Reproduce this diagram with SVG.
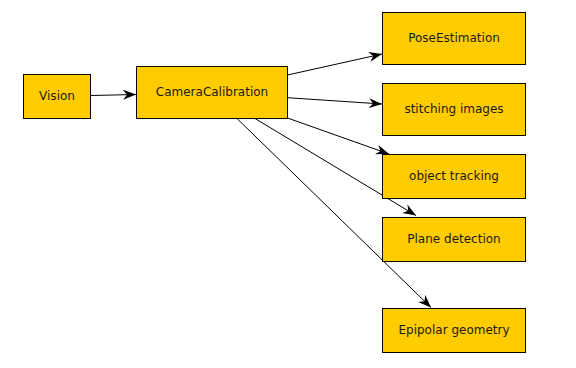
<svg xmlns="http://www.w3.org/2000/svg" width="576" height="368" viewBox="0 0 576 368">
<style>
.n rect{fill:#ffcc00;stroke:#000;stroke-width:1}
.n text{font-family:"DejaVu Sans",sans-serif;font-size:12px;fill:#1a1a1a;text-anchor:middle}
.e line{stroke:#000;stroke-width:1;marker-end:url(#ah)}
</style>
<defs>
<marker id="ah" markerUnits="userSpaceOnUse" markerWidth="14" markerHeight="12" refX="13" refY="5" orient="auto" viewBox="0 0 14 10">
<path d="M0,0 L13,5 L0,10 L4,5 z" fill="#000"/>
</marker>
</defs>
<rect width="576" height="368" fill="#fff"/>
<g class="e">
<line x1="90.5" y1="95.5" x2="136" y2="94.5"/>
<line x1="287.5" y1="75" x2="382" y2="54"/>
<line x1="287.5" y1="97.7" x2="382" y2="104"/>
<line x1="287.5" y1="118" x2="389" y2="154"/>
<line x1="255" y1="118.5" x2="416" y2="215.5"/>
<line x1="237" y1="118.5" x2="431" y2="307.5"/>
</g>
<g id="vision" class="n"><rect x="23.5" y="74.5" width="67" height="44"/><text x="57" y="100">Vision</text></g>
<g id="cameracalibration" class="n"><rect x="136.5" y="66.5" width="151" height="52"/><text x="212" y="96">CameraCalibration</text></g>
<g id="poseestimation" class="n"><rect x="382.5" y="12.5" width="143" height="52"/><text x="454" y="42">PoseEstimation</text></g>
<g id="stitchingimages" class="n"><rect x="382.5" y="83.5" width="143" height="52"/><text x="454" y="113">stitching images</text></g>
<g id="objecttracking" class="n"><rect x="382.5" y="154.5" width="143" height="44"/><text x="454" y="180">object tracking</text></g>
<g id="planedetection" class="n"><rect x="382.5" y="217.5" width="143" height="44"/><text x="454" y="243">Plane detection</text></g>
<g id="epipolargeometry" class="n"><rect x="382.5" y="308.5" width="143" height="44"/><text x="454" y="334">Epipolar geometry</text></g>
</svg>
